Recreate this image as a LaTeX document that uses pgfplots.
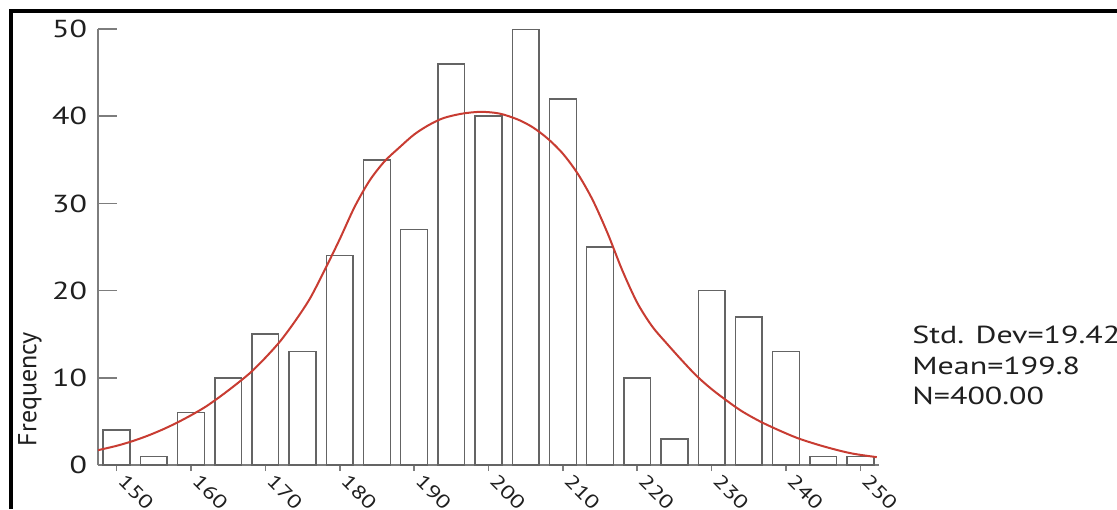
\documentclass[border=0pt]{standalone}
\usepackage{pgfplots}
\pgfplotsset{compat=1.18}
\usepackage{fontspec}
\setmainfont{PT Sans}[FakeStretch=1.3]
\newfontfamily\plainfont{PT Sans}
\definecolor{barline}{RGB}{100,100,100}
\definecolor{axisgray}{RGB}{125,125,125}
\definecolor{curvered}{RGB}{200,60,50}

\begin{document}
\begin{tikzpicture}
\path[use as bounding box] (0,0) rectangle (558.5pt,254.5pt);
\draw[line width=2pt] (5.25pt,0) -- (5.25pt,248.75pt) -- (558.5pt,248.75pt);
\begin{axis}[
  at={(49pt,22pt)}, anchor=south west,
  scale only axis, width=390.5pt, height=218pt,
  xmin=147.5, xmax=252.5, ymin=0, ymax=50,
  axis lines=left,
  axis line style={axisgray, line width=0.8pt, -},
  every tick/.style={axisgray, line width=0.8pt},
  tick align=inside,
  major tick length=9.5pt, minor tick length=5.5pt,
  ytick={0,10,...,50},
  xtick=\empty,
  minor xtick={152.5,157.5,...,252.5},
  extra x ticks={150,160,...,250},
  extra x tick style={major tick length=3pt, tick align=outside},
  /pgf/number format/assume math mode=true,
  yticklabel style={font=\fontsize{12.3}{14}\selectfont, text=black!88, anchor=east, xshift=-2pt},
  xticklabel style={font=\fontsize{9.5}{11}\selectfont, text=black!88, xshift=5pt, yshift=4pt, rotate=-45, anchor=north west},
  clip=true,
]
\addplot[ybar, bar width=3.6, bar shift=0pt, draw=barline, fill=white, line width=0.75pt]
  coordinates {
  (150,4) (155,1) (160,6) (165,10) (170,15) (175,13) (180,24)
  (185,35) (190,27) (195,46) (200,40) (205,50) (210,42) (215,25)
  (220,10) (225,3) (230,20) (235,17) (240,13) (245,1) (250,1)
  };
\addplot[curvered, line width=1pt, smooth, mark=none]
  coordinates {
  (147.5,1.7) (150,2.2) (152,2.7) (154,3.3) (156,4.0) (158,4.8) (160,5.7)
  (162,6.7) (164,7.9) (166,9.2) (168,10.6) (170,12.3) (172,14.2) (174,16.5)
  (176,19.1) (178,22.4) (180,25.9) (182,29.6) (184,32.6) (186,34.8) (188,36.4)
  (190,37.9) (192,39.0) (194,39.8) (196.5,40.3) (199,40.5) (201.5,40.3)
  (204,39.6) (206,38.7) (208,37.4) (210,35.7) (212,33.4) (214,30.4) (216,26.6)
  (218,22.3) (220,18.6) (222,15.9) (224,13.9) (226,12.0) (228,10.2) (230,8.7)
  (232,7.4) (234,6.2) (236.5,5.0) (239,4.0) (241.5,3.1) (244,2.4) (246.5,1.8)
  (249,1.3) (252.2,0.9)
  };
\end{axis}
\node[rotate=90, anchor=center, inner sep=0, text=black!88] at (15pt,60pt)
  {\plainfont\fontsize{13}{15}\selectfont Frequency};
\begin{scope}[every node/.style={anchor=base west, inner sep=0, text=black!88,
  font=\fontsize{12.3}{14}\selectfont}]
\node at (456pt,83pt) {Std. Dev=19.42};
\node at (456pt,67.5pt) {Mean=199.8};
\node at (456pt,52.5pt) {N=400.00};
\end{scope}
\end{tikzpicture}
\end{document}
